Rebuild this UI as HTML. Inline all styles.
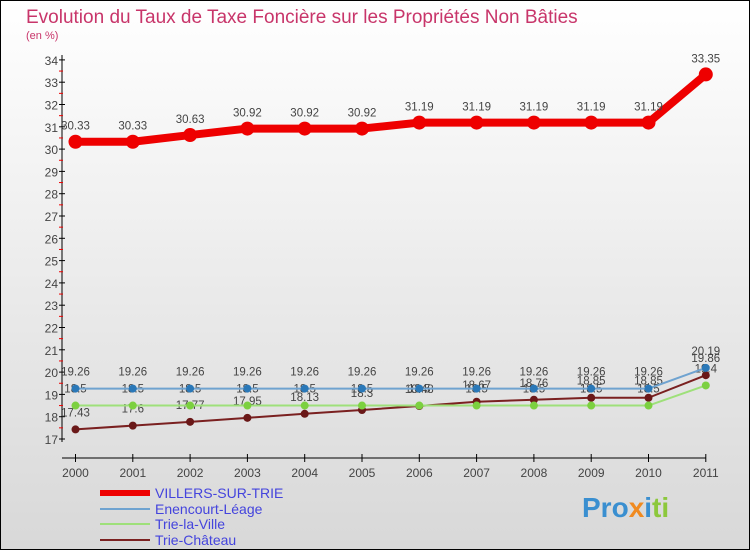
<!DOCTYPE html>
<html><head><meta charset="utf-8"><style>
body{margin:0;width:750px;height:550px;overflow:hidden;font-family:"Liberation Sans",sans-serif}
</style></head><body>
<svg width="750" height="550" id="c" xmlns="http://www.w3.org/2000/svg">
<defs><linearGradient id="bg" x1="0" y1="0" x2="0" y2="1"><stop offset="0" stop-color="#ffffff"/><stop offset="1" stop-color="#d8d8d8"/></linearGradient></defs>
<rect x="0.5" y="0.5" width="749" height="549" fill="url(#bg)" stroke="#000"/>
<text x="26" y="23" font-size="19" fill="#c8356a">Evolution du Taux de Taxe Foncière sur les Propriétés Non Bâties</text>
<text x="26" y="39" font-size="11" fill="#c8356a">(en %)</text>
<g id="axes"></g><g id="series"></g>
<g font-size="14" fill="#4444dd">
<line x1="100" y1="493" x2="150" y2="493" stroke="#ee0000" stroke-width="6"/>
<text x="155" y="498">VILLERS-SUR-TRIE</text>
<line x1="100" y1="509" x2="150" y2="509" stroke="#6fa3d0" stroke-width="2"/>
<text x="155" y="514">Enencourt-Léage</text>
<line x1="100" y1="524" x2="150" y2="524" stroke="#9ee07a" stroke-width="2"/>
<text x="155" y="529">Trie-la-Ville</text>
<line x1="100" y1="540" x2="150" y2="540" stroke="#7a2020" stroke-width="2"/>
<text x="155" y="545">Trie-Château</text>
</g>
<text x="582" y="517" font-size="28" font-weight="bold"><tspan fill="#3a8fd0">Pro</tspan><tspan fill="#f08a20">x</tspan><tspan fill="#3a8fd0">i</tspan><tspan fill="#8cc83c">ti</tspan></text>
</svg>
<script>
const years=["2000","2001","2002","2003","2004","2005","2006","2007","2008","2009","2010","2011"];
const yTicks=[17,18,19,20,21,22,23,24,25,26,27,28,29,30,31,32,33,34];
const villers=[30.33,30.33,30.63,30.92,30.92,30.92,31.19,31.19,31.19,31.19,31.19,33.35];
const enencourt=[19.26,19.26,19.26,19.26,19.26,19.26,19.26,19.26,19.26,19.26,19.26,20.19];
const trieVille=[18.5,18.5,18.5,18.5,18.5,18.5,18.5,18.5,18.5,18.5,18.5,19.4];
const trieChateau=[17.43,17.6,17.77,17.95,18.13,18.3,18.48,18.67,18.76,18.85,18.85,19.86];
const NS="http://www.w3.org/2000/svg";
const X=i=>75.5+i*57.3, Y=v=>439-(v-17)*22.3;
function mk(t,a,p){const e=document.createElementNS(NS,t);for(const k in a)e.setAttribute(k,a[k]);p.appendChild(e);return e;}
const ax=document.getElementById('axes'), sg=document.getElementById('series');
let e=mk('line',{x1:62,y1:55,x2:62,y2:442,stroke:'#000'},ax);


e=mk('line',{x1:62,y1:458,x2:X(11),y2:458,stroke:'#000'},ax);


yTicks.forEach(v=>{
 mk('line',{x1:59,y1:Y(v),x2:65,y2:Y(v),stroke:'#000'},ax);
 if(v<34)mk('line',{x1:59,y1:Y(v+0.5),x2:63,y2:Y(v+0.5),stroke:'#e00'},ax);
 const t=mk('text',{x:58,y:Y(v)+5,'font-size':12,'text-anchor':'end',fill:'#444'},ax);t.textContent=v;
 
 
});
years.forEach((y,i)=>{
 mk('line',{x1:X(i),y1:454,x2:X(i),y2:462,stroke:'#000'},ax);
 const t=mk('text',{x:X(i),y:477,'font-size':12,'text-anchor':'middle',fill:'#444'},ax);t.textContent=y;
 
 
});
function series(d,col,w,r,name,fill){
 const g=mk('g',{},sg);
 
 
 mk('polyline',{points:d.map((v,i)=>X(i)+','+Y(v)).join(' '),fill:'none',stroke:col,'stroke-width':w,'stroke-linejoin':'round'},g);
 d.forEach((v,i)=>{
  const c=mk('circle',{cx:X(i),cy:Y(v),r:r,fill:fill||col},g);
  
  
  const t=mk('text',{x:X(i),y:Y(v)-(r>5?12:13),'font-size':11.5,'text-anchor':'middle',fill:'#444'},g);t.textContent=v;
  
  
 });
}
series(trieChateau,'#7a2020',2,4,'trie-chateau','#6a1818');
series(trieVille,'#9ee07a',2,4,'trie-la-ville','#7cd040');
series(enencourt,'#6fa3d0',2,4,'enencourt','#2a78b8');
series(villers,'#ee0000',8,7,'villers');
</script>
</body></html>
